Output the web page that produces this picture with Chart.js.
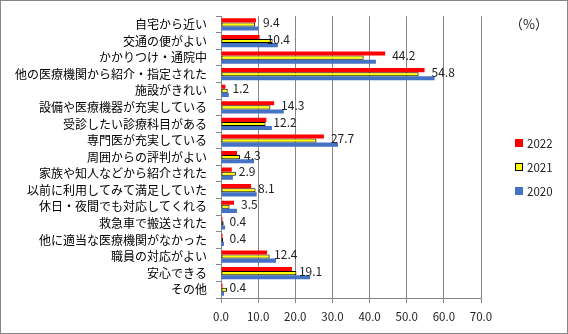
<!DOCTYPE html>
<html>
<head>
<meta charset="utf-8">
<script src="https://cdn.jsdelivr.net/npm/chart.js@4/dist/chart.umd.min.js"></script>
<style>
html,body{margin:0;padding:0;background:#fff;}
#wrap{width:568px;height:334px;position:relative;}
</style>
</head>
<body>
<div id="wrap"><canvas id="c" width="568" height="334"></canvas></div>
<script>
const categories = [
  "自宅から近い","交通の便がよい","かかりつけ・通院中","他の医療機関から紹介・指定された",
  "施設がきれい","設備や医療機器が充実している","受診したい診療科目がある","専門医が充実している",
  "周囲からの評判がよい","家族や知人などから紹介された","以前に利用してみて満足していた",
  "休日・夜間でも対応してくれる","救急車で搬送された","他に適当な医療機関がなかった",
  "職員の対応がよい","安心できる","その他"
];
const values2022 = [9.4,10.4,44.2,54.8,1.2,14.3,12.2,27.7,4.3,2.9,8.1,3.5,0.4,0.4,12.4,19.1,0.4];
const values2021 = [9.2,13.9,38.4,53.2,1.8,13.3,12.0,25.7,5.1,4.0,9.3,2.3,0.7,0.6,13.1,20.3,1.6];
const values2020 = [10.1,15.3,41.7,57.5,2.1,16.9,13.7,31.5,8.9,3.2,9.6,4.3,1.1,0.8,14.8,24.0,0.8];
const seriesLabels = ["2022","2021","2020"];
const xTicks = [0,10,20,30,40,50,60,70];
const unitLabel = "（%）";

const JP = '"Noto Sans CJK JP", "Noto Sans", sans-serif';

const helperPlugin = {
  id: 'helper',
  beforeDraw(chart){
    const ctx = chart.ctx;
    ctx.save();
    ctx.fillStyle = '#fff';
    ctx.fillRect(0,0,chart.width,chart.height);
    ctx.restore();
  },
  afterDatasetsDraw(chart){
    const ctx = chart.ctx;
    const yScale = chart.scales.y;
    const meta = chart.getDatasetMeta(0);
    ctx.save();
    ctx.font = '12px ' + JP;
    ctx.fillStyle = '#222';
    ctx.textAlign = 'left';
    ctx.textBaseline = 'middle';
    meta.data.forEach((el, i) => {
      const y = yScale.getPixelForValue(i) - 2;
      ctx.fillText(values2022[i].toFixed(1), el.x + 7, y);
    });
    ctx.restore();
  },
  afterDraw(chart){
    const ctx = chart.ctx;
    ctx.save();
    ctx.font = '11.5px ' + JP;
    ctx.textBaseline = 'middle';
    ctx.textAlign = 'left';
    chart.data.datasets.forEach((ds, i) => {
      const y = 139 + 24*i;
      ctx.fillStyle = ds.backgroundColor;
      ctx.fillRect(515, y, 8, 8);
      if (ds.borderWidth) {
        ctx.strokeStyle = '#000';
        ctx.lineWidth = 1;
        ctx.strokeRect(515.5, y+0.5, 7, 7);
      }
      ctx.fillStyle = '#222';
      ctx.fillText(ds.label, 527, y + 4.5);
    });
    ctx.font = '13px "Noto Sans CJK JP", sans-serif';
    ctx.textAlign = 'center';
    ctx.fillText(unitLabel, 529, 24);
    ctx.strokeStyle = '#868686';
    ctx.lineWidth = 1;
    ctx.strokeRect(0.5, 0.5, chart.width-1, chart.height-1);
    ctx.restore();
  }
};

new Chart(document.getElementById('c'), {
  type: 'bar',
  data: {
    labels: categories,
    datasets: [
      {label: seriesLabels[0], data: values2022, backgroundColor: '#FF0000', borderWidth: 0},
      {label: seriesLabels[1], data: values2021, backgroundColor: '#FFFF00', borderColor: '#000', borderWidth: 1, borderSkipped: false},
      {label: seriesLabels[2], data: values2020, backgroundColor: '#4472C4', borderWidth: 0}
    ]
  },
  options: {
    indexAxis: 'y',
    responsive: false,
    animation: false,
    devicePixelRatio: 1,
    layout: {padding: {left: 0, right: 87, top: 14, bottom: 0}},
    datasets: {bar: {categoryPercentage: 0.74, barPercentage: 1.0}},
    plugins: {legend: {display: false}, tooltip: {enabled: false}},
    scales: {
      x: {
        min: 0, max: 70,
        afterBuildTicks(scale){ scale.ticks = xTicks.map(v => ({value: v})); },
        afterFit(scale){ scale.height = 36; },
        grid: {color: '#868686', lineWidth: 1, tickLength: 5, drawTicks: true},
        border: {color: '#868686'},
        ticks: {
          callback: v => Number(v).toFixed(1),
          font: {size: 11.5, family: JP},
          color: '#222',
          padding: 7,
          maxRotation: 0
        }
      },
      y: {
        afterFit(scale){ scale.width = 221; },
        grid: {display: true, drawOnChartArea: false, color: '#868686', tickLength: 5, offset: true},
        border: {color: '#868686'},
        ticks: {
          font: {size: 12, family: JP},
          color: '#000',
          padding: 9,
          autoSkip: false
        }
      }
    }
  },
  plugins: [helperPlugin]
});
</script>
</body>
</html>
